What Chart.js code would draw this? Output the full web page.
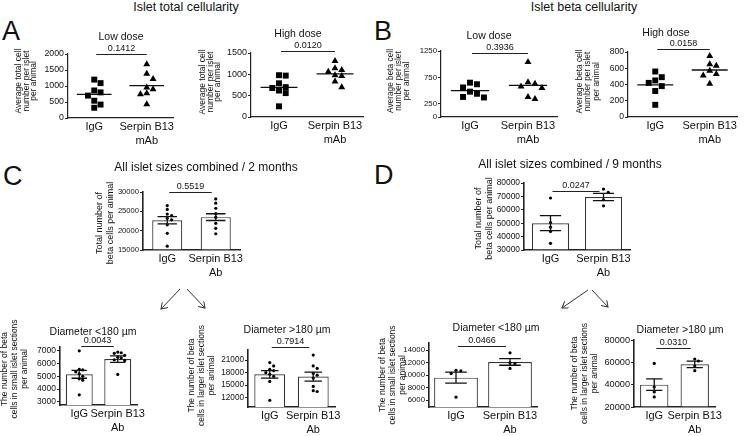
<!DOCTYPE html>
<html>
<head>
<meta charset="utf-8">
<script src="https://cdn.jsdelivr.net/npm/chart.js@4"></script>
<style>
  html, body { margin: 0; padding: 0; background: #fff; overflow: hidden; }
  #fig { position: relative; width: 745px; height: 436px; overflow: hidden; background: #fff; }
  #fig svg text { font-family: 'Liberation Sans', Arial, sans-serif; fill: #111; }
</style>
</head>
<body>
<div id="fig">
  <svg width="745" height="436" style="position:absolute;left:0;top:0">
    <defs>
      <marker id="head" markerWidth="8" markerHeight="8" refX="6" refY="4" orient="auto" markerUnits="userSpaceOnUse">
        <path d="M0,0 L6,4 L0,8" fill="none" stroke="#333" stroke-width="1"/>
      </marker>
    </defs>
    <text x="2" y="40" font-size="27">A</text>
    <text x="374" y="40" font-size="27">B</text>
    <text x="3" y="185" font-size="27">C</text>
    <text x="374" y="184" font-size="27">D</text>
    <text x="186" y="11" font-size="12.5" text-anchor="middle">Islet total cellularity</text>
    <text x="584" y="11" font-size="12.5" text-anchor="middle">Islet beta cellularity</text>
    <g stroke="#333" stroke-width="1" marker-end="url(#head)">
      <line x1="180" y1="289" x2="161" y2="309"/>
      <line x1="187" y1="289" x2="205" y2="308"/>
      <line x1="588" y1="290" x2="562" y2="308"/>
      <line x1="592" y1="290" x2="608" y2="307"/>
    </g>
  </svg>
</div>
<script>
// ---- data ----
const mAbLabels = ['IgG', ['Serpin B13', 'mAb']];
const abLabels = ['IgG', ['Serpin B13', 'Ab']];

// A: average total cell number per islet per animal
const aLowIgG = [1200, 1090, 860, 800, 700, 540, 420, 320];
const aLowSerpin = [1680, 1380, 1220, 950, 900, 770, 740, 430];
const aHighIgG = [980, 970, 790, 700, 680, 620, 560, 250];
const aHighSerpin = [1310, 1140, 1100, 1060, 980, 960, 830, 700];
const aLowTicks = [0, 500, 1000, 1500, 2000];
const aHighTicks = [0, 500, 1000, 1500];

// B: average beta cell number per islet per animal
const bLowIgG = [650, 620, 560, 480, 440, 380, 370];
const bLowSerpin = [1040, 660, 630, 580, 550, 380, 340];
const bHighIgG = [560, 490, 450, 420, 380, 320, 150];
const bHighSerpin = [750, 650, 630, 570, 530, 510, 410];
const bLowTicks = [0, 250, 750, 1250];
const bHighTicks = [0, 200, 400, 600, 800];

// C: 2 months
const c2mMeans = [22700, 23500];
const c2mSems = [950, 870];
const c2mIgG = [26500, 25500, 24300, 23900, 23200, 22800, 21500, 19300, 16000];
const c2mSerpin = [28200, 27100, 25800, 24400, 23500, 21900, 20600, 19200];
const c2mTicks = [15000, 20000, 25000, 30000];

const cSmallMeans = [5160, 6350];
const cSmallSems = [310, 260];
const cSmallIgG = [7000, 5550, 5500, 5350, 5200, 5000, 4800, 4700, 3550];
const cSmallSerpin = [6900, 6850, 6800, 6650, 6500, 6450, 6300, 6250, 5150];
const cSmallTicks = [3000, 4000, 5000, 6000, 7000];

const cLargeMeans = [17600, 17050];
const cLargeSems = [900, 1070];
const cLargeIgG = [20400, 19600, 18800, 18500, 18000, 17600, 17100, 15900, 11400];
const cLargeSerpin = [22200, 19600, 19000, 17800, 17400, 16700, 14700, 13700, 13500];
const cLargeTicks = [12000, 15000, 18000, 21000];

// D: 9 months
const d9mMeans = [50000, 69500];
const d9mSems = [5600, 2700];
const d9mIgG = [68800, 50500, 47000, 43800, 35000];
const d9mSerpin = [75500, 73000, 67500, 63000];
const d9mTicks = [30000, 40000, 50000, 60000, 70000, 80000];

const dSmallMeans = [9630, 12140];
const dSmallSems = [880, 530];
const dSmallIgG = [10800, 10700, 10300, 6500];
const dSmallSerpin = [13600, 12000, 11900, 11100];
const dSmallTicks = [6000, 8000, 10000, 12000, 14000];

const dLargeMeans = [40000, 58200];
const dLargeSems = [5200, 2900];
const dLargeIgG = [59000, 37900, 33500, 29000];
const dLargeSerpin = [63000, 61200, 56700, 52500];
const dLargeTicks = [20000, 40000, 60000, 80000];

const yTitleTotal = ['Average total cell', 'number per islet', 'per animal'];
const yTitleBeta = ['Average beta cell', 'number per islet', 'per animal'];
const yTitleAll = ['Total number of', 'beta cells per animal'];
const yTitleSmall = ['The number of beta', 'cells in small islet sections', 'per animal'];
const yTitleLarge = ['The number of beta', 'cells in larger islet sections', 'per animal'];

// ---- layout of the sub-charts (page pixels) ----
const FONT = "'Liberation Sans', Arial, sans-serif";
const panels = [
  { kind: 'dot', plot: [68, 54, 173, 118], range: [0, 2000], ticks: aLowTicks, groups: [aLowIgG, aLowSerpin], labels: mAbLabels, tickFont: 8.8,
    yTitle: yTitleTotal, yX: 19, yLh: 7.2, yFont: 8.5, yDy: -5, title: 'Low dose', tPos: [121, 37], tFont: 10.5, bY: 54, p: '0.1412' },
  { kind: 'dot', plot: [251, 53, 363, 117], range: [0, 1500], ticks: aHighTicks, groups: [aHighIgG, aHighSerpin], labels: mAbLabels, tickFont: 9,
    yTitle: yTitleTotal, yX: 203, yLh: 7.2, yFont: 8.5, yDy: -3, title: 'High dose', tPos: [298, 34], tFont: 10.5, bY: 51, p: '0.0120' },
  { kind: 'dot', plot: [441, 51, 557, 117], range: [0, 1250], ticks: bLowTicks, groups: [bLowIgG, bLowSerpin], labels: mAbLabels, tickFont: 7.8,
    yTitle: yTitleBeta, yX: 391, yLh: 7.8, yFont: 8.3, yDy: -3, title: 'Low dose', tPos: [489, 36], tFont: 10.5, bY: 53, p: '0.3936' },
  { kind: 'dot', plot: [628, 52, 737, 117], range: [0, 800], ticks: bHighTicks, groups: [bHighIgG, bHighSerpin], labels: mAbLabels, tickFont: 8.6,
    yTitle: yTitleBeta, yX: 580, yLh: 8.2, yFont: 8.3, yDy: -3, title: 'High dose', tPos: [666, 33], tFont: 10.5, bY: 49, p: '0.0158' },
  { kind: 'bar', plot: [143, 192, 240, 250], range: [15000, 30000], ticks: c2mTicks, groups: [c2mIgG, c2mSerpin], means: c2mMeans, sems: c2mSems, labels: abLabels, barPct: 0.62, tickFont: 7.6,
    yTitle: yTitleAll, yX: 100, yLh: 11, yFont: 9, yDy: 2, title: 'All islet sizes combined / 2 months', tPos: [206, 168], tFont: 12, bY: 192, p: '0.5519' },
  { kind: 'bar', plot: [524, 183, 630, 250], range: [30000, 80000], ticks: d9mTicks, groups: [d9mIgG, d9mSerpin], means: d9mMeans, sems: d9mSems, labels: abLabels, barPct: 0.7, tickFont: 8.4,
    yTitle: yTitleAll, yX: 478.5, yLh: 11.5, yFont: 9, yDy: 2, title: 'All islet sizes combined / 9 months', tPos: [570, 165], tFont: 12, bY: 191, p: '0.0247' },
  { kind: 'bar', plot: [60, 347, 137, 405], range: [2750, 7300], ticks: cSmallTicks, groups: [cSmallIgG, cSmallSerpin], means: cSmallMeans, sems: cSmallSems, labels: abLabels, barPct: 0.7, tickFont: 8.5,
    yTitle: yTitleSmall, yX: 4.5, yLh: 10, yFont: 8.5, yDy: -7, title: 'Diameter <180 \u00b5m', tPos: [93, 332], tFont: 10.5, bY: 346, p: '0.0043' },
  { kind: 'bar', plot: [248, 350, 335, 407], range: [9800, 23400], ticks: cLargeTicks, groups: [cLargeIgG, cLargeSerpin], means: cLargeMeans, sems: cLargeSems, labels: abLabels, barPct: 0.71, tickFont: 8.2,
    yTitle: yTitleLarge, yX: 192, yLh: 10, yFont: 8.5, yDy: -3, title: 'Diameter >180 \u00b5m', tPos: [287, 330], tFont: 10.5, bY: 347, p: '0.7914' },
  { kind: 'bar', plot: [429, 343, 537, 407], range: [4930, 15170], ticks: dSmallTicks, groups: [dSmallIgG, dSmallSerpin], means: dSmallMeans, sems: dSmallSems, labels: abLabels, barPct: 0.81, tickFont: 7.8,
    yTitle: yTitleSmall, yX: 383, yLh: 10, yFont: 8.5, yDy: 0, title: 'Diameter <180 \u00b5m', tPos: [496, 328], tFont: 10.5, bY: 346, p: '0.0466' },
  { kind: 'bar', plot: [634, 340, 715, 407], range: [20000, 80000], ticks: dLargeTicks, groups: [dLargeIgG, dLargeSerpin], means: dLargeMeans, sems: dLargeSems, labels: abLabels, barPct: 0.7, tickFont: 9.2,
    yTitle: yTitleLarge, yX: 575, yLh: 10, yFont: 8.5, yDy: 0, title: 'Diameter >180 \u00b5m', tPos: [680, 330], tFont: 10.5, bY: 348, p: '0.0310' }
];

Chart.defaults.font.family = FONT;
Chart.defaults.color = '#111';

const mean = arr => arr.reduce((s, v) => s + v, 0) / arr.length;

// spread points with close values side by side (simple beeswarm)
function swarm(vals, tol, step) {
  const placed = [];
  return vals.map(v => {
    const cands = [0];
    for (let i = 1; i < 10; i++) cands.push(i * step, -i * step);
    const x = cands.find(c => !placed.some(p => Math.abs(p.v - v) < tol && Math.abs(p.x - c) < step * 0.95));
    placed.push({ v, x });
    return x;
  });
}

const fig = document.getElementById('fig');

function buildChart(p) {
  const [L, T, R, B] = p.plot;
  const cl = L - 70, ct = T - 48;
  const cw = R - cl + 70, ch = B - ct + 36;
  const cv = document.createElement('canvas');
  cv.width = cw;
  cv.height = ch;
  cv.style.cssText = `position:absolute;left:${cl}px;top:${ct}px;width:${cw}px;height:${ch}px`;
  fig.appendChild(cv);

  const [yMin, yMax] = p.range;
  const isBar = p.kind === 'bar';
  const datasets = [];

  p.groups.forEach((vals, i) => {
    const offs = swarm(vals, (yMax - yMin) * (isBar ? 0.06 : 0.09), isBar ? 0.09 : 0.12);
    datasets.push({
      type: 'scatter',
      data: vals.map((v, j) => ({ x: i + offs[j], y: v })),
      pointStyle: isBar ? 'circle' : (i ? 'triangle' : 'rect'),
      pointRadius: isBar ? 1.6 : (i ? 4 : 4.2),
      pointBackgroundColor: '#000',
      pointBorderColor: '#000',
      pointBorderWidth: 0
    });
  });

  if (isBar) {
    datasets.push({
      type: 'bar',
      data: p.means.map((m, i) => ({ x: i, y: m })),
      base: yMin,
      backgroundColor: '#fff',
      borderColor: '#333',
      borderWidth: 1.2,
      barPercentage: p.barPct,
      categoryPercentage: 1
    });
  } else {
    p.groups.forEach((vals, i) => {
      const m = mean(vals);
      datasets.push({
        type: 'line',
        data: [{ x: i - 0.33, y: m }, { x: i + 0.33, y: m }],
        borderColor: '#111',
        borderWidth: 1.3,
        pointRadius: 0,
        showLine: true
      });
    });
  }

  // titles, p-value brackets and error bars
  const annot = {
    id: 'annot',
    afterDatasetsDraw(chart) {
      if (!isBar) return;
      const { ctx, scales: { x, y } } = chart;
      ctx.save();
      ctx.strokeStyle = '#111';
      ctx.lineWidth = 1.3;
      p.means.forEach((m, i) => {
        const cx = x.getPixelForValue(i);
        const hi = y.getPixelForValue(m + p.sems[i]);
        const lo = y.getPixelForValue(m - p.sems[i]);
        const x0 = x.getPixelForValue(i - 0.2), x1 = x.getPixelForValue(i + 0.2);
        ctx.beginPath();
        ctx.moveTo(cx, hi); ctx.lineTo(cx, lo);
        ctx.moveTo(x0, hi); ctx.lineTo(x1, hi);
        ctx.moveTo(x0, lo); ctx.lineTo(x1, lo);
        ctx.stroke();
      });
      ctx.restore();
    },
    afterDraw(chart) {
      const { ctx, chartArea: a, scales: { x } } = chart;
      ctx.save();
      ctx.fillStyle = '#111';
      ctx.strokeStyle = '#222';

      // y axis title, rotated, lines going rightwards
      ctx.save();
      ctx.font = `${p.yFont}px ${FONT}`;
      ctx.textAlign = 'center';
      ctx.textBaseline = 'middle';
      ctx.translate(p.yX - cl, (a.top + a.bottom) / 2 + p.yDy);
      ctx.rotate(-Math.PI / 2);
      p.yTitle.forEach((t, i) => ctx.fillText(t, 0, i * p.yLh));
      ctx.restore();

      // panel subtitle
      ctx.font = `${p.tFont}px ${FONT}`;
      ctx.textAlign = 'center';
      ctx.textBaseline = 'middle';
      ctx.fillText(p.title, p.tPos[0] - cl, p.tPos[1] - ct);

      // p-value bracket
      const by = Math.round(p.bY - ct) + 0.5;
      const bx0 = x.getPixelForValue(0) + 2, bx1 = x.getPixelForValue(1) - (isBar ? 4 : 0);
      ctx.lineWidth = 1;
      ctx.beginPath();
      ctx.moveTo(bx0, by); ctx.lineTo(bx1, by);
      ctx.stroke();
      ctx.font = `9px ${FONT}`;
      ctx.textBaseline = 'bottom';
      ctx.fillText(p.p, (bx0 + bx1) / 2, by - 1);
      ctx.restore();
    }
  };

  new Chart(cv, {
    type: 'scatter',
    data: { datasets },
    plugins: [annot],
    options: {
      responsive: false,
      animation: false,
      devicePixelRatio: 1,
      events: [],
      layout: { padding: { left: 0, top: T - ct, right: cl + cw - R, bottom: 0 } },
      plugins: { legend: { display: false }, tooltip: { enabled: false } },
      scales: {
        x: {
          type: 'linear', min: -0.5, max: 1.5, offset: false,
          afterBuildTicks: s => { s.ticks = [{ value: 0 }, { value: 1 }]; },
          afterFit: s => { s.height = ch - (B - ct); },
          grid: { display: false, drawTicks: false, offset: false },
          border: { display: true, color: '#222', width: isBar ? 1.6 : 1.2 },
          ticks: {
            autoSkip: false, maxRotation: 0, padding: 2,
            font: { size: 11, lineHeight: 1.3 }, color: '#111',
            callback: v => p.labels[v]
          }
        },
        y: {
          type: 'linear', min: yMin, max: yMax, beginAtZero: false,
          afterBuildTicks: s => { s.ticks = p.ticks.map(v => ({ value: v })); },
          afterFit: s => { s.width = L - cl; },
          grid: { display: true, drawOnChartArea: false, drawTicks: true, tickLength: 3, color: '#222', lineWidth: 1 },
          border: { display: true, color: '#222', width: isBar ? 1.6 : 1.2 },
          ticks: {
            padding: 1, color: '#111',
            font: { size: p.tickFont },
            callback: v => String(v)
          }
        }
      }
    }
  });
}

panels.forEach(buildChart);
</script>
</body>
</html>
